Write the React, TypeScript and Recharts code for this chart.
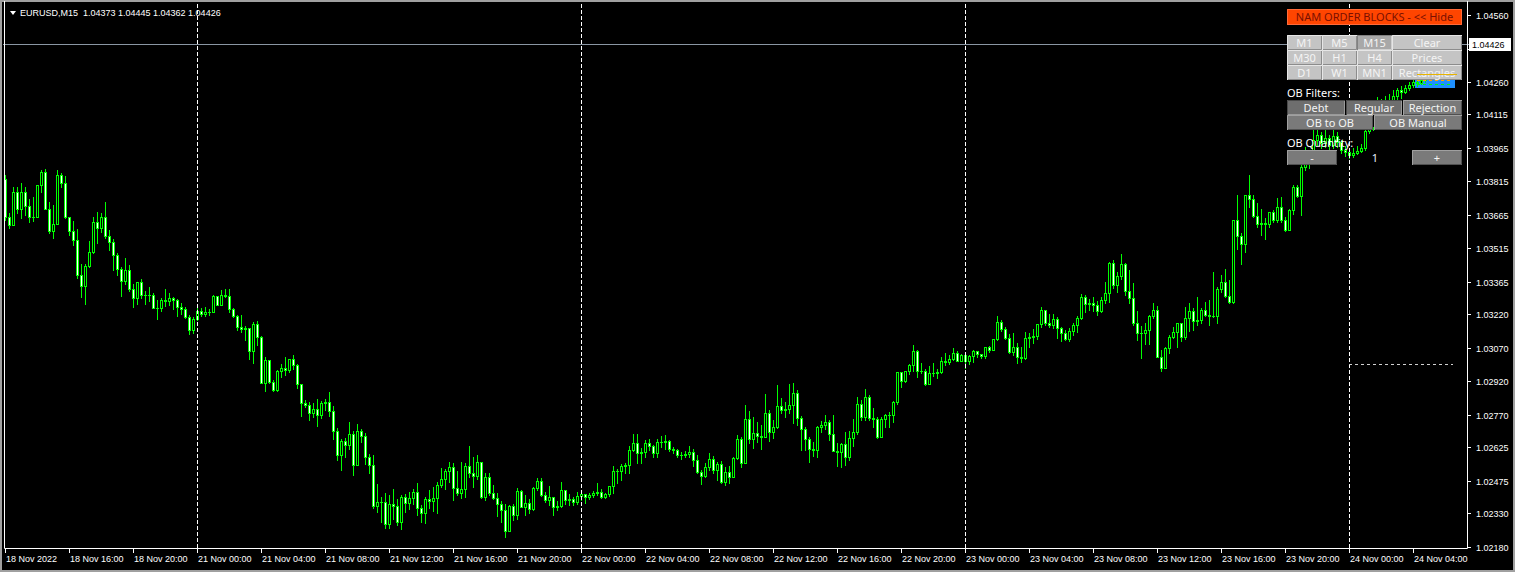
import React from "react";
import { Bar, ComposedChart, ReferenceArea, ReferenceLine, XAxis, YAxis } from "recharts";

// EURUSD M15, 18 Nov 2022 12:00 .. 24 Nov 2022 05:45
const FIRST_OPEN = 1.03826;

const closes = [
  1.03655, 1.0362, 1.03767, 1.03691, 1.03767, 1.03705, 1.03655, 1.03655, 1.03799, 1.03857,
  1.03691, 1.03593, 1.03624, 1.03844, 1.03808, 1.03655, 1.03593, 1.03553, 1.03396, 1.03347,
  1.03436, 1.03499, 1.03633, 1.03606, 1.03655, 1.0357, 1.03544, 1.03485, 1.03423, 1.03369,
  1.03418, 1.03333, 1.03293, 1.03364, 1.03306, 1.03304, 1.03308, 1.03248, 1.0325, 1.03284,
  1.03279, 1.03293, 1.03284, 1.03253, 1.03244, 1.03208, 1.0315, 1.03199, 1.03235, 1.03221,
  1.0323, 1.03228, 1.03302, 1.03261, 1.03306, 1.03302, 1.03244, 1.03212, 1.03163, 1.03154,
  1.03158, 1.03055, 1.03176, 1.03118, 1.02912, 1.03015, 1.02917, 1.02881, 1.02966, 1.02979,
  1.0297, 1.0302, 1.02993, 1.02908, 1.02823, 1.02814, 1.02778, 1.02796, 1.02769, 1.02823,
  1.02827, 1.02787, 1.02697, 1.0259, 1.02652, 1.02635, 1.02684, 1.02545, 1.02697, 1.02675,
  1.02581, 1.02545, 1.02361, 1.02379, 1.02381, 1.02281, 1.0237, 1.02361, 1.0229, 1.02402,
  1.02375, 1.02397, 1.02424, 1.02352, 1.0233, 1.02393, 1.02384, 1.02397, 1.02455, 1.02482,
  1.02518, 1.02536, 1.02442, 1.0242, 1.02438, 1.02541, 1.02509, 1.02496, 1.02558, 1.02402,
  1.02491, 1.0242, 1.02397, 1.0237, 1.02343, 1.02249, 1.02361, 1.02321, 1.02429, 1.02357,
  1.02375, 1.02348, 1.02442, 1.02473, 1.02411, 1.02388, 1.02402, 1.02357, 1.02361, 1.02433,
  1.02388, 1.02393, 1.02379, 1.02406, 1.02415, 1.02402, 1.02411, 1.0242, 1.02424, 1.02402,
  1.02415, 1.02451, 1.02518, 1.0252, 1.02541, 1.02545, 1.02612, 1.02643, 1.02599, 1.02603,
  1.02643, 1.0263, 1.02599, 1.02648, 1.0265, 1.02652, 1.02617, 1.02612, 1.0259, 1.02588,
  1.02594, 1.02603, 1.02567, 1.02514, 1.02496, 1.02536, 1.02572, 1.02523, 1.02549, 1.02469,
  1.02514, 1.02491, 1.02576, 1.02661, 1.02554, 1.02751, 1.02661, 1.02688, 1.02675, 1.0267,
  1.02778, 1.02693, 1.02715, 1.02809, 1.02791, 1.02796, 1.02814, 1.02867, 1.02755, 1.02706,
  1.02661, 1.02617, 1.02612, 1.02715, 1.02724, 1.02738, 1.02684, 1.02608, 1.02603, 1.02639,
  1.02581, 1.02666, 1.02693, 1.02818, 1.0276, 1.02849, 1.02755, 1.02751, 1.0267, 1.02751,
  1.02769, 1.02771, 1.02827, 1.02961, 1.02921, 1.02966, 1.02993, 1.03055, 1.02966, 1.02968,
  1.02908, 1.02957, 1.02959, 1.02961, 1.03011, 1.03006, 1.0302, 1.03047, 1.03011, 1.03038,
  1.03011, 1.03033, 1.03055, 1.03042, 1.03033, 1.03073, 1.0306, 1.03109, 1.03185, 1.03154,
  1.03114, 1.03051, 1.03073, 1.03029, 1.03024, 1.03114, 1.03118, 1.03123, 1.03176, 1.03239,
  1.03181, 1.03172, 1.03199, 1.03158, 1.03136, 1.03109, 1.03145, 1.03172, 1.03203, 1.03297,
  1.03266, 1.0327, 1.03261, 1.03235, 1.03284, 1.03315, 1.0345, 1.03351, 1.03391, 1.03445,
  1.03324, 1.03293, 1.03181, 1.03136, 1.03138, 1.0315, 1.03212, 1.03239, 1.03029, 1.02979,
  1.03069, 1.03118, 1.03141, 1.03181, 1.03118, 1.03203, 1.03235, 1.0319, 1.03194, 1.03239,
  1.03217, 1.03212, 1.03214, 1.03333, 1.03364, 1.03302, 1.03275, 1.03642, 1.0357, 1.03535,
  1.03754, 1.03736, 1.0366, 1.03624, 1.03629, 1.03624, 1.03678, 1.03642, 1.037, 1.03642,
  1.03597, 1.03687, 1.0379, 1.0375, 1.03879, 1.03924, 1.03926, 1.04, 1.04023, 1.03987,
  1.04009, 1.03978, 1.04018, 1.03991, 1.03956, 1.03947, 1.03933, 1.03942, 1.03951, 1.03965,
  1.04041, 1.04059, 1.04126, 1.04162, 1.04144, 1.04179, 1.0417, 1.04197, 1.04224, 1.04215,
  1.04233, 1.04247, 1.0426, 1.04256, 1.04269, 1.04296, 1.04332, 1.0435, 1.04373, 1.04426,
];

const highs = [
  1.03844, 1.03673, 1.0379, 1.0379, 1.03808, 1.0379, 1.03736, 1.03745, 1.03799, 1.03866,
  1.0387, 1.03723, 1.03709, 1.03866, 1.03853, 1.03839, 1.03655, 1.03638, 1.03602, 1.03445,
  1.03445, 1.03548, 1.03655, 1.03678, 1.03673, 1.03723, 1.03597, 1.03557, 1.03494, 1.03432,
  1.03472, 1.03441, 1.03355, 1.03364, 1.03378, 1.03324, 1.03342, 1.03315, 1.03284, 1.03293,
  1.03333, 1.03315, 1.03297, 1.03288, 1.0327, 1.03253, 1.03217, 1.03208, 1.03248, 1.03248,
  1.03253, 1.03244, 1.03306, 1.03302, 1.03329, 1.03333, 1.03333, 1.03248, 1.03217, 1.03217,
  1.03167, 1.03158, 1.03185, 1.0319, 1.03123, 1.03029, 1.03015, 1.02926, 1.0297, 1.02997,
  1.03029, 1.0302, 1.03038, 1.02997, 1.02903, 1.02836, 1.02827, 1.02823, 1.02841, 1.02832,
  1.02841, 1.02872, 1.02809, 1.02711, 1.02661, 1.02666, 1.02738, 1.02697, 1.02729, 1.02706,
  1.02688, 1.02594, 1.0259, 1.0246, 1.02402, 1.0242, 1.02411, 1.02438, 1.02393, 1.02411,
  1.02415, 1.02424, 1.02438, 1.02464, 1.02366, 1.02402, 1.02433, 1.02446, 1.02469, 1.02531,
  1.02527, 1.02558, 1.02554, 1.02518, 1.02558, 1.02554, 1.0263, 1.02581, 1.0259, 1.02558,
  1.02509, 1.02509, 1.02455, 1.0242, 1.02384, 1.0237, 1.02366, 1.0237, 1.02442, 1.02433,
  1.02411, 1.02393, 1.02446, 1.02487, 1.02487, 1.02424, 1.02451, 1.02397, 1.02384, 1.02469,
  1.02433, 1.02415, 1.02402, 1.02424, 1.02424, 1.02406, 1.0242, 1.02429, 1.02464, 1.02438,
  1.0242, 1.02451, 1.02541, 1.02527, 1.02549, 1.02554, 1.0263, 1.02684, 1.02684, 1.02621,
  1.02657, 1.02661, 1.02635, 1.02661, 1.02675, 1.02679, 1.02657, 1.02626, 1.02617, 1.02603,
  1.02608, 1.0263, 1.02617, 1.0259, 1.02523, 1.02554, 1.02599, 1.02585, 1.02558, 1.02563,
  1.02536, 1.02541, 1.02581, 1.02679, 1.0267, 1.02814, 1.02787, 1.0276, 1.02738, 1.02724,
  1.02863, 1.02791, 1.02746, 1.02903, 1.02845, 1.02827, 1.02908, 1.02912, 1.02881, 1.02764,
  1.02715, 1.0267, 1.02648, 1.0272, 1.02742, 1.02769, 1.02746, 1.02769, 1.02643, 1.02643,
  1.02693, 1.02697, 1.02751, 1.02849, 1.02836, 1.02885, 1.02858, 1.028, 1.0276, 1.0276,
  1.02773, 1.02782, 1.02832, 1.02961, 1.02961, 1.02966, 1.02997, 1.03082, 1.0306, 1.03002,
  1.02975, 1.02988, 1.03002, 1.02975, 1.03029, 1.03047, 1.03038, 1.03069, 1.03055, 1.03042,
  1.03029, 1.03038, 1.0306, 1.03055, 1.03042, 1.03073, 1.03078, 1.03109, 1.03212, 1.03194,
  1.03163, 1.03132, 1.03136, 1.03091, 1.03073, 1.03141, 1.03136, 1.03154, 1.03176, 1.03253,
  1.03239, 1.03221, 1.03221, 1.03208, 1.03163, 1.0315, 1.03158, 1.03181, 1.03212, 1.03311,
  1.03306, 1.03288, 1.03297, 1.03279, 1.03297, 1.03364, 1.03454, 1.03463, 1.03409, 1.0349,
  1.0345, 1.03418, 1.0336, 1.03235, 1.03167, 1.03181, 1.03217, 1.0327, 1.03257, 1.0306,
  1.03073, 1.03127, 1.03163, 1.03181, 1.03181, 1.03253, 1.0327, 1.03248, 1.03297, 1.03248,
  1.03275, 1.03284, 1.03409, 1.03342, 1.03396, 1.03423, 1.03373, 1.03642, 1.03754, 1.03584,
  1.03754, 1.03844, 1.03754, 1.03718, 1.03691, 1.03651, 1.03678, 1.03687, 1.03741, 1.03745,
  1.03655, 1.03691, 1.03799, 1.03799, 1.03911, 1.03969, 1.03956, 1.04045, 1.04054, 1.04036,
  1.04045, 1.04023, 1.04045, 1.04036, 1.04, 1.03973, 1.03965, 1.03965, 1.03973, 1.03982,
  1.04054, 1.0409, 1.04179, 1.04193, 1.04184, 1.04197, 1.04206, 1.04224, 1.04233, 1.04242,
  1.04247, 1.0426, 1.04273, 1.04273, 1.04278, 1.04323, 1.0435, 1.04368, 1.04381, 1.04445,
];

const lows = [
  1.03642, 1.03606, 1.03624, 1.03673, 1.03651, 1.03664, 1.03633, 1.03638, 1.03655, 1.03767,
  1.03691, 1.03584, 1.03561, 1.03624, 1.0379, 1.03651, 1.03575, 1.0353, 1.03382, 1.03297,
  1.03266, 1.03432, 1.03494, 1.03539, 1.03588, 1.03561, 1.03508, 1.03418, 1.03396, 1.03302,
  1.03355, 1.03324, 1.03253, 1.03266, 1.03293, 1.03266, 1.03279, 1.03248, 1.03199, 1.03235,
  1.03257, 1.03261, 1.03244, 1.03212, 1.03221, 1.03203, 1.03132, 1.03136, 1.03194, 1.03212,
  1.03212, 1.03217, 1.0323, 1.03261, 1.03261, 1.03297, 1.0323, 1.03208, 1.0315, 1.03141,
  1.03105, 1.0302, 1.03002, 1.03082, 1.02912, 1.02876, 1.02912, 1.02876, 1.02876, 1.02939,
  1.02948, 1.02961, 1.02975, 1.0289, 1.02764, 1.02805, 1.02746, 1.0276, 1.0272, 1.02755,
  1.02791, 1.02764, 1.02661, 1.02567, 1.02523, 1.02581, 1.02617, 1.025, 1.02545, 1.02648,
  1.02549, 1.02509, 1.02352, 1.02335, 1.0229, 1.02263, 1.02263, 1.02303, 1.02276, 1.02258,
  1.02335, 1.02348, 1.0237, 1.02321, 1.0229, 1.02285, 1.02352, 1.02339, 1.0233, 1.02446,
  1.02438, 1.02469, 1.02388, 1.02411, 1.02397, 1.02402, 1.02491, 1.02446, 1.02482, 1.02397,
  1.02388, 1.02411, 1.02393, 1.02317, 1.0229, 1.02223, 1.02249, 1.02299, 1.02303, 1.02357,
  1.02321, 1.0233, 1.02343, 1.02433, 1.02406, 1.02379, 1.02366, 1.02321, 1.02343, 1.02357,
  1.0237, 1.02366, 1.02366, 1.0237, 1.02388, 1.02375, 1.02393, 1.02402, 1.02411, 1.02397,
  1.02397, 1.02406, 1.0242, 1.02464, 1.02478, 1.02509, 1.02509, 1.02608, 1.02554, 1.02554,
  1.02581, 1.02612, 1.02581, 1.02581, 1.02626, 1.02617, 1.02608, 1.02599, 1.02581, 1.02572,
  1.02581, 1.02581, 1.02541, 1.02509, 1.0246, 1.02491, 1.02523, 1.02509, 1.02478, 1.02464,
  1.02455, 1.02464, 1.02491, 1.02572, 1.02536, 1.02554, 1.02643, 1.02621, 1.02648, 1.02617,
  1.0267, 1.02652, 1.02666, 1.02711, 1.02778, 1.0276, 1.02778, 1.02733, 1.02724, 1.02612,
  1.02612, 1.02558, 1.02585, 1.02581, 1.02693, 1.02706, 1.02657, 1.02608, 1.02541, 1.02536,
  1.02545, 1.02567, 1.0263, 1.02684, 1.02746, 1.02746, 1.02746, 1.02715, 1.02666, 1.0267,
  1.02715, 1.02715, 1.02738, 1.02818, 1.02894, 1.02917, 1.02952, 1.02966, 1.02939, 1.02957,
  1.02903, 1.02908, 1.02944, 1.02935, 1.02957, 1.02993, 1.02997, 1.03015, 1.03011, 1.03011,
  1.02979, 1.02997, 1.03006, 1.03029, 1.03024, 1.03024, 1.03051, 1.0306, 1.03105, 1.03145,
  1.03109, 1.03047, 1.03038, 1.03002, 1.03006, 1.0302, 1.03073, 1.03091, 1.03109, 1.03163,
  1.03172, 1.03163, 1.03158, 1.03114, 1.031, 1.03105, 1.031, 1.03127, 1.03141, 1.03199,
  1.0323, 1.03239, 1.03235, 1.03217, 1.0323, 1.0327, 1.03275, 1.03338, 1.0332, 1.03378,
  1.03306, 1.0327, 1.03172, 1.03105, 1.03024, 1.03087, 1.03087, 1.03203, 1.03029, 1.02966,
  1.02979, 1.03047, 1.03114, 1.03073, 1.031, 1.03109, 1.03145, 1.0315, 1.03172, 1.03181,
  1.03212, 1.03172, 1.03208, 1.03181, 1.0332, 1.03297, 1.0327, 1.0327, 1.03512, 1.03445,
  1.03499, 1.037, 1.03655, 1.03611, 1.03575, 1.03557, 1.03611, 1.03633, 1.03633, 1.03633,
  1.03593, 1.03597, 1.03669, 1.03745, 1.03664, 1.03866, 1.03875, 1.0392, 1.03978, 1.03965,
  1.03969, 1.03956, 1.03965, 1.03969, 1.03942, 1.03929, 1.0392, 1.03924, 1.03938, 1.03947,
  1.03956, 1.04032, 1.04045, 1.04117, 1.04121, 1.04135, 1.04153, 1.04162, 1.04179, 1.04188,
  1.04211, 1.04224, 1.04238, 1.04242, 1.04251, 1.0426, 1.04287, 1.04323, 1.04351, 1.04362,
];

// one label every 16 bars (4 hours)
const timeLabels = [
  "18 Nov 2022", "18 Nov 16:00", "18 Nov 20:00", "21 Nov 00:00", "21 Nov 04:00", "21 Nov 08:00",
  "21 Nov 12:00", "21 Nov 16:00", "21 Nov 20:00", "22 Nov 00:00", "22 Nov 04:00", "22 Nov 08:00",
  "22 Nov 12:00", "22 Nov 16:00", "22 Nov 20:00", "23 Nov 00:00", "23 Nov 04:00", "23 Nov 08:00",
  "23 Nov 12:00", "23 Nov 16:00", "23 Nov 20:00", "24 Nov 00:00", "24 Nov 04:00",
];

const priceTicks = [
  1.0456, 1.0441, 1.0426, 1.04115, 1.03965, 1.03815, 1.03665, 1.03515, 1.03365,
  1.0322, 1.0307, 1.0292, 1.0277, 1.02625, 1.02475, 1.0233, 1.0218,
];

const daySeparators = [48, 144, 240, 336];
const lastBar = { open: 1.04373, high: 1.04445, low: 1.04362, close: 1.04426 };
const obZone = { from: 353, to: 362, top: 1.04278, bottom: 1.04233, upper: 1.04265, lower: 1.04251 };
const levelLine = { from: 336, to: 362, price: 1.02993 };
const EMPTY_SLOTS = 6; // chart shift on the right

const W = 1515;
const H = 572;
const LIME = "#00ff00";
const AXIS_FONT = '"Liberation Sans", Arial, sans-serif';
const UI_FONT = '"Noto Sans", "Open Sans", sans-serif';

type Row = { i: number; o?: number; h?: number; l?: number; c?: number; range?: [number, number] };

const rows: Row[] = [];
for (let i = 0; i < closes.length + EMPTY_SLOTS; i++) {
  if (i >= closes.length) {
    rows.push({ i });
    continue;
  }
  const o = i === 0 ? FIRST_OPEN : closes[i - 1];
  const c = closes[i];
  const h = Math.max(highs[i], o, c);
  const l = Math.min(lows[i], o, c);
  rows.push({ i, o, h, l, c, range: [l, h] });
}

function Candle(props: any) {
  const { x, y, width, height, payload } = props;
  if (!payload || payload.c == null) return null;
  const { o, h, l, c } = payload;
  const top = Math.min(y, y + height);
  const k = h > l ? Math.abs(height) / (h - l) : 0;
  const py = (v: number) => Math.round(top + (h - v) * k);
  const cx = Math.round(x + width / 2);
  const bTop = py(Math.max(o, c));
  const bBot = py(Math.min(o, c));
  return (
    <g>
      <line x1={cx + 0.5} x2={cx + 0.5} y1={py(h)} y2={py(l) + 1} stroke={LIME} />
      {bBot - bTop >= 1 ? (
        <rect x={cx - 0.5} y={bTop + 0.5} width={2} height={bBot - bTop} fill={c < o ? "#ffffff" : "#000000"} stroke={LIME} />
      ) : (
        <line x1={cx - 1} x2={cx + 2} y1={bTop + 0.5} y2={bTop + 0.5} stroke={LIME} />
      )}
    </g>
  );
}

function TimeTick(props: any) {
  const { x, y, payload } = props;
  const label = timeLabels[payload.value / 16];
  if (!label) return null;
  const px = Math.round(x) + 0.5;
  return (
    <g>
      <line x1={px} x2={px} y1={y} y2={y + 5} stroke="#ffffff" />
      <text x={px + 0.5} y={y + 14} fill="#ffffff" fontSize={9} fontFamily={AXIS_FONT}>
        {label}
      </text>
    </g>
  );
}

function PriceTick(props: any) {
  const { x, y, payload } = props;
  const py = Math.round(y) + 0.5;
  // the label under the bid price box is covered by it
  const covered = Math.abs(payload.value - lastBar.close) < 0.0003;
  return (
    <g>
      <line x1={x} x2={x + 4} y1={py} y2={py} stroke="#ffffff" />
      {!covered && (
        <text x={x + 9} y={py + 3.5} fill="#ffffff" fontSize={9} fontFamily={AXIS_FONT}>
          {Number(payload.value).toFixed(5)}
        </text>
      )}
    </g>
  );
}

const crispLine = (p: any) => {
  const vertical = Math.abs(p.x1 - p.x2) < 0.01;
  const x1 = vertical ? Math.floor(p.x1) + 0.5 : p.x1;
  const x2 = vertical ? Math.floor(p.x2) + 0.5 : p.x2;
  const y1 = vertical ? p.y1 : Math.floor(p.y1) + 0.5;
  const y2 = vertical ? p.y2 : Math.floor(p.y2) + 0.5;
  return <line x1={x1} x2={x2} y1={y1} y2={y2} stroke={p.stroke} strokeDasharray={p.strokeDasharray} strokeWidth={1} />;
};

function BidLabel(props: any) {
  const vb = props.viewBox;
  if (!vb) return null;
  const right = vb.x + vb.width;
  const py = Math.floor(vb.y) + 0.5;
  return (
    <g>
      <line x1={right} x2={right + 3} y1={py} y2={py} stroke="#8a96a3" />
      <rect x={right + 2} y={py - 6.5} width={42} height={13} fill="#ffffff" />
      <text x={right + 5} y={py + 3.5} fill="#000000" fontSize={9} fontFamily={AXIS_FONT}>
        {lastBar.close.toFixed(5)}
      </text>
    </g>
  );
}

type Btn = { label: string; x: number; y: number; w: number; h: number; kind: string };

const buttons: Btn[] = [
  { label: "NAM ORDER BLOCKS - << Hide", x: 1287, y: 9, w: 175, h: 16, kind: "hide" },
  { label: "M1", x: 1287, y: 35, w: 35, h: 15, kind: "light" },
  { label: "M5", x: 1322, y: 35, w: 35, h: 15, kind: "light" },
  { label: "M15", x: 1357, y: 35, w: 35, h: 15, kind: "lightOn" },
  { label: "Clear", x: 1392, y: 35, w: 70, h: 15, kind: "light" },
  { label: "M30", x: 1287, y: 50, w: 35, h: 15, kind: "light" },
  { label: "H1", x: 1322, y: 50, w: 35, h: 15, kind: "light" },
  { label: "H4", x: 1357, y: 50, w: 35, h: 15, kind: "light" },
  { label: "Prices", x: 1392, y: 50, w: 70, h: 15, kind: "light" },
  { label: "D1", x: 1287, y: 65, w: 35, h: 15, kind: "light" },
  { label: "W1", x: 1322, y: 65, w: 35, h: 15, kind: "light" },
  { label: "MN1", x: 1357, y: 65, w: 35, h: 15, kind: "light" },
  { label: "Rectangles", x: 1392, y: 65, w: 70, h: 15, kind: "light" },
  { label: "Debt", x: 1287, y: 100, w: 58, h: 15, kind: "darkOn" },
  { label: "Regular", x: 1346, y: 100, w: 56, h: 15, kind: "darkOn" },
  { label: "Rejection", x: 1403, y: 100, w: 59, h: 15, kind: "dark" },
  { label: "OB to OB", x: 1287, y: 115, w: 86, h: 15, kind: "dark" },
  { label: "OB Manual", x: 1374, y: 115, w: 88, h: 15, kind: "dark" },
  { label: "-", x: 1287, y: 150, w: 50, h: 15, kind: "dark" },
  { label: "+", x: 1412, y: 150, w: 50, h: 15, kind: "dark" },
];

const btnStyle: Record<string, { fill: string; hi: string; lo: string; text: string }> = {
  hide: { fill: "#ff4500", hi: "#ff6a3a", lo: "#ff6a3a", text: "#7a1000" },
  light: { fill: "#c4c4c4", hi: "#e6e6e6", lo: "#8c8c8c", text: "#f4f4f4" },
  lightOn: { fill: "#a8a8a8", hi: "#808080", lo: "#d0d0d0", text: "#f4f4f4" },
  dark: { fill: "#7a7a7a", hi: "#a0a0a0", lo: "#505050", text: "#f4f4f4" },
  darkOn: { fill: "#6e6e6e", hi: "#4a4a4a", lo: "#9a9a9a", text: "#f4f4f4" },
};

function Panel() {
  return (
    <g fontFamily={UI_FONT} fontSize={11}>
      {buttons.map((b) => {
        const s = btnStyle[b.kind];
        return (
          <g key={b.label}>
            <rect x={b.x} y={b.y} width={b.w} height={b.h} fill={s.fill} />
            <path d={`M${b.x + 0.5} ${b.y + b.h}V${b.y + 0.5}H${b.x + b.w}`} stroke={s.hi} fill="none" />
            <path d={`M${b.x + 1} ${b.y + b.h - 0.5}H${b.x + b.w - 0.5}V${b.y + 1}`} stroke={s.lo} fill="none" />
            <text x={b.x + b.w / 2} y={b.y + 12} textAnchor="middle" fill={s.text}>
              {b.label}
            </text>
          </g>
        );
      })}
      <text x={1287} y={97} fill="#ffffff">OB Filters:</text>
      <text x={1287} y={147} fill="#ffffff">OB Quantity:</text>
      <text x={1375} y={162} textAnchor="middle" fill="#e8f0ff">1</text>
      <line x1={1417} x2={1457} y1={74.5} y2={74.5} stroke="#e8b400" />
    </g>
  );
}

export default function App() {
  return (
    <div style={{ position: "absolute", left: 0, top: 0, width: W, height: H, background: "#000", overflow: "hidden" }}>
      <ComposedChart
        width={W}
        height={H}
        data={rows}
        margin={{ top: 1, right: 0, bottom: 0, left: 3 }}
        barCategoryGap={0}
        barGap={0}
      >
        <XAxis
          dataKey="i"
          type="category"
          interval={15}
          height={24}
          tickSize={0}
          tickMargin={0}
          axisLine={false}
          tickLine={false}
          tick={<TimeTick />}
        />
        <YAxis
          orientation="right"
          type="number"
          width={48}
          domain={[1.021733, 1.046227]}
          allowDataOverflow
          ticks={priceTicks}
          interval={0}
          tickSize={0}
          tickMargin={0}
          axisLine={false}
          tickLine={false}
          tick={<PriceTick />}
        />
        <ReferenceArea
          x1={obZone.from}
          x2={obZone.to}
          y1={obZone.bottom}
          y2={obZone.top}
          fill="#1e90ff"
          fillOpacity={1}
          stroke="none"
          ifOverflow="hidden"
        />
        <Bar dataKey="range" shape={(p: any) => <Candle {...p} />} isAnimationActive={false} />
        {daySeparators.map((d) => (
          <ReferenceLine key={d} x={d} stroke="#ffffff" strokeDasharray="4 2" shape={crispLine} />
        ))}
        <ReferenceLine
          segment={[
            { x: levelLine.from, y: levelLine.price },
            { x: levelLine.to, y: levelLine.price },
          ]}
          stroke="#d0d0d0"
          strokeDasharray="3 3"
          shape={crispLine}
        />
        <ReferenceLine
          segment={[
            { x: obZone.from, y: obZone.upper },
            { x: obZone.to, y: obZone.upper },
          ]}
          stroke="#ffa500"
          strokeDasharray="3 3"
          shape={crispLine}
        />
        <ReferenceLine
          segment={[
            { x: obZone.from, y: obZone.lower },
            { x: obZone.to, y: obZone.lower },
          ]}
          stroke="#00ff00"
          strokeDasharray="3 3"
          shape={crispLine}
        />
        <ReferenceLine y={lastBar.close} stroke="#8a96a3" shape={crispLine} label={<BidLabel />} />
      </ComposedChart>
      <svg width={W} height={H} style={{ position: "absolute", left: 0, top: 0, pointerEvents: "none" }}>
        {/* window border and chart frame */}
        <rect x={0} y={0} width={W} height={H} fill="none" stroke="#a0a0a0" strokeWidth={4} />
        <path d="M4.5 1V548.5H1467.5V1" stroke="#ffffff" fill="none" />
        <polygon points="10,11 16,11 13,15" fill="#ffffff" />
        <text x={20} y={16} fill="#ffffff" fontSize={9} fontFamily={AXIS_FONT} style={{ whiteSpace: "pre" }}>
          {`EURUSD,M15  ${lastBar.open.toFixed(5)} ${lastBar.high.toFixed(5)} ${lastBar.low.toFixed(5)} ${lastBar.close.toFixed(5)}`}
        </text>
        <Panel />
      </svg>
    </div>
  );
}
